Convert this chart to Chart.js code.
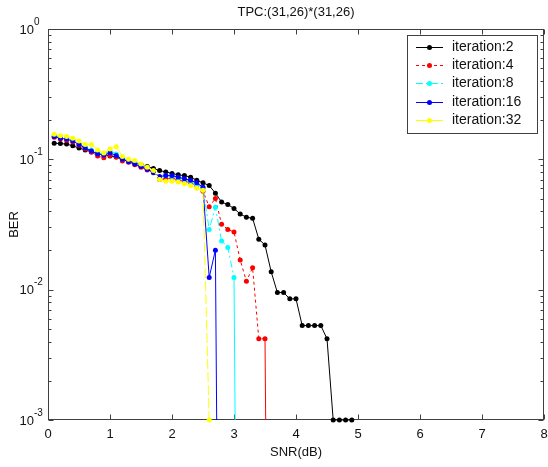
<!DOCTYPE html>
<html>
<head>
<meta charset="utf-8">
<script src="https://cdn.jsdelivr.net/npm/chart.js@4.4.0/dist/chart.umd.min.js"></script>
<style>
  html, body { margin: 0; padding: 0; background: #fff; }
  #wrap { width: 548px; height: 467px; }
</style>
</head>
<body>
<div id="wrap"><canvas id="c" width="548" height="467"></canvas></div>
<script>
const chartTitle = 'TPC:(31,26)*(31,26)';
const xLabel = 'SNR(dB)';
const yLabel = 'BER';

// SNR points (dB), 0.1 dB steps
const snr = [0.1, 0.2, 0.3, 0.4, 0.5, 0.6, 0.7, 0.8, 0.9, 1.0,
             1.1, 1.2, 1.3, 1.4, 1.5, 1.6, 1.7, 1.8, 1.9, 2.0,
             2.1, 2.2, 2.3, 2.4, 2.5, 2.6, 2.7, 2.8, 2.9, 3.0,
             3.1, 3.2, 3.3, 3.4, 3.5, 3.6, 3.7, 3.8, 3.9, 4.0,
             4.1, 4.2, 4.3, 4.4, 4.5, 4.6, 4.7, 4.8, 4.9];

// BER per iteration count (1e-8 = dropped below the 1e-3 floor)
const berIter2 = [0.133, 0.132, 0.131, 0.127, 0.122, 0.118, 0.114, 0.112, 0.109, 0.106,
                  0.104, 0.100, 0.097, 0.094, 0.091, 0.088, 0.085, 0.082, 0.080, 0.078,
                  0.076, 0.075, 0.073, 0.069, 0.066, 0.063, 0.055, 0.047, 0.045, 0.042,
                  0.038, 0.036, 0.0353, 0.0244, 0.022, 0.0137, 0.0095, 0.0095, 0.0085, 0.0085,
                  0.0053, 0.0053, 0.0053, 0.0053, 0.0042, 0.001, 0.001, 0.001, 0.001];
const berIter4 = [0.148, 0.143, 0.140, 0.136, 0.128, 0.120, 0.114, 0.106, 0.103, 0.107,
                  0.104, 0.097, 0.095, 0.091, 0.087, 0.083, 0.080, 0.070, 0.071, 0.072,
                  0.069, 0.068, 0.066, 0.063, 0.057, 0.0433, 0.050, 0.0317, 0.029, 0.0277,
                  0.0169, 0.0116, 0.0147, 0.0042, 0.0042, 1e-8];
const berIter8 = [0.152, 0.148, 0.145, 0.140, 0.132, 0.124, 0.118, 0.112, 0.110, 0.116,
                  0.110, 0.102, 0.098, 0.096, 0.090, 0.085, 0.080, 0.072, 0.075, 0.074,
                  0.072, 0.070, 0.068, 0.064, 0.060, 0.029, 0.0428, 0.0236, 0.0211, 0.0124,
                  1e-8];
const berIter16 = [0.150, 0.145, 0.143, 0.138, 0.130, 0.122, 0.116, 0.110, 0.108, 0.112,
                   0.107, 0.100, 0.096, 0.092, 0.088, 0.084, 0.079, 0.074, 0.075, 0.075,
                   0.073, 0.071, 0.069, 0.066, 0.061, 0.0124, 0.0201, 1e-8];
const berIter32 = [0.156, 0.152, 0.150, 0.145, 0.138, 0.130, 0.130, 0.118, 0.112, 0.120,
                   0.125, 0.105, 0.100, 0.098, 0.092, 0.087, 0.082, 0.070, 0.068, 0.068,
                   0.067, 0.065, 0.063, 0.060, 0.058, 0.001];

const seriesLabels = ['iteration:2', 'iteration:4', 'iteration:8', 'iteration:16', 'iteration:32'];
const seriesColors = ['#000000', '#ff0000', '#00ffff', '#0000ff', '#ffff00'];
const seriesDash = [[], [3, 3], [7, 3, 2, 3], [], []];

const xTicks = [0, 1, 2, 3, 4, 5, 6, 7, 8];
const yTicks = [0.001, 0.01, 0.1, 1];
const yTickExp = ['-3', '-2', '-1', '0'];
const minorSteps = [2, 3, 4, 5, 6, 7, 8, 9];

const AXIS = '#404040';
const FONT = '"Liberation Sans", Arial, sans-serif';

const toPoints = ys => ys.map((v, i) => ({ x: snr[i], y: v }));
const allSeries = [berIter2, berIter4, berIter8, berIter16, berIter32];

const datasets = allSeries.map((ys, i) => ({
  label: seriesLabels[i],
  data: toPoints(ys),
  borderColor: seriesColors[i],
  backgroundColor: seriesColors[i],
  borderWidth: 1,
  borderDash: seriesDash[i],
  pointRadius: 2.5,
  pointBorderWidth: 0,
  pointStyle: 'circle',
  tension: 0,
  order: 5 - i,
  clip: (i === 0 || i === 4) ? 4 : 0,
  // the drop below the axis is drawn solid (dashed for iteration:32)
  segment: {
    borderDash: ctx => ctx.p1.parsed.y <= 0.001 ? (i === 4 ? [10, 3] : []) : undefined
  }
}));

const matlabAxes = {
  id: 'matlabAxes',
  beforeDatasetsDraw(chart) {
    const { ctx, chartArea: a, scales: { x, y } } = chart;
    const L = Math.round(a.left) + 0.5, R = Math.round(a.right) - 0.5;
    const T = Math.round(a.top) + 0.5, B = Math.round(a.bottom) - 0.5;
    ctx.save();
    ctx.strokeStyle = AXIS;
    ctx.lineWidth = 1;
    ctx.strokeRect(L, T, R - L, B - T);
    ctx.beginPath();
    xTicks.forEach(v => {
      const px = Math.round(x.getPixelForValue(v)) + 0.5;
      ctx.moveTo(px, B); ctx.lineTo(px, B - 5);
      ctx.moveTo(px, T); ctx.lineTo(px, T + 5);
    });
    yTicks.forEach((v, k) => {
      const py = Math.round(y.getPixelForValue(v)) + 0.5;
      ctx.moveTo(L, py); ctx.lineTo(L + 5, py);
      ctx.moveTo(R, py); ctx.lineTo(R - 5, py);
      if (k < yTicks.length - 1) {
        minorSteps.forEach(m => {
          const my = Math.round(y.getPixelForValue(v * m)) + 0.5;
          ctx.moveTo(L, my); ctx.lineTo(L + 3, my);
          ctx.moveTo(R, my); ctx.lineTo(R - 3, my);
        });
      }
    });
    ctx.stroke();

    ctx.fillStyle = '#111';
    ctx.font = '13px ' + FONT;
    ctx.textAlign = 'center';
    ctx.textBaseline = 'middle';
    xTicks.forEach(v => ctx.fillText(String(v), x.getPixelForValue(v), a.bottom + 14));

    yTicks.forEach((v, k) => {
      const py = y.getPixelForValue(v);
      ctx.font = '13px ' + FONT;
      ctx.textAlign = 'right';
      ctx.fillText('10', 34, py + 1);
      ctx.font = '10px ' + FONT;
      ctx.textAlign = 'left';
      ctx.fillText(yTickExp[k], 34, py - 7);
    });

    ctx.font = '13px ' + FONT;
    ctx.textAlign = 'center';
    const cx = (a.left + a.right) / 2;
    ctx.fillText(chartTitle, cx, 12);
    ctx.fillText(xLabel, cx, 452);
    ctx.save();
    ctx.translate(14, (a.top + a.bottom) / 2);
    ctx.rotate(-Math.PI / 2);
    ctx.fillText(yLabel, 0, 0);
    ctx.restore();
    ctx.restore();
  },
  afterDatasetsDraw(chart) {
    // legend box in the top-right corner
    const { ctx } = chart;
    const bx = 407.5, by = 35.5, bw = 130, bh = 98;
    ctx.save();
    ctx.fillStyle = '#fff';
    ctx.fillRect(bx, by, bw, bh);
    ctx.strokeStyle = AXIS;
    ctx.lineWidth = 1;
    ctx.strokeRect(bx, by, bw, bh);
    ctx.font = '14px ' + FONT;
    ctx.textBaseline = 'middle';
    ctx.textAlign = 'left';
    chart.data.datasets.forEach((ds, i) => {
      const ry = Math.round(47 + i * 18.2) + 0.5;
      ctx.strokeStyle = ds.borderColor;
      ctx.setLineDash(ds.borderDash);
      ctx.beginPath();
      ctx.moveTo(416, ry); ctx.lineTo(443, ry);
      ctx.stroke();
      ctx.setLineDash([]);
      ctx.fillStyle = ds.borderColor;
      ctx.beginPath();
      ctx.arc(429.5, ry, 2.5, 0, Math.PI * 2);
      ctx.fill();
      ctx.fillStyle = '#111';
      ctx.fillText(ds.label, 452, ry);
    });
    ctx.restore();
  }
};

new Chart(document.getElementById('c'), {
  type: 'line',
  data: { datasets },
  options: {
    responsive: false,
    animation: false,
    events: [],
    layout: { padding: { left: 48, top: 29, right: 4, bottom: 47 } },
    scales: {
      x: { type: 'linear', min: 0, max: 8, display: false },
      y: { type: 'logarithmic', min: 0.001, max: 1, display: false }
    },
    plugins: {
      legend: { display: false },
      tooltip: { enabled: false },
      title: { display: false }
    }
  },
  plugins: [matlabAxes]
});
</script>
</body>
</html>
